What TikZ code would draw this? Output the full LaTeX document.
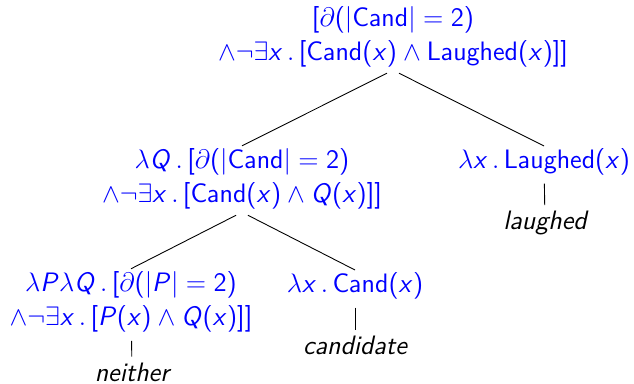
\documentclass[tikz,border=0pt]{standalone}
\usepackage{tikz}
\usetikzlibrary{positioning}
% sans serif letters in math
\DeclareSymbolFont{sfletters}{OT1}{cmss}{m}{sl}
\DeclareSymbolFont{sfupright}{OT1}{cmss}{m}{n}
\DeclareMathSymbol{x}{\mathalpha}{sfletters}{`x}
\DeclareMathSymbol{P}{\mathalpha}{sfletters}{`P}
\DeclareMathSymbol{Q}{\mathalpha}{sfletters}{`Q}
\DeclareMathSymbol{(}{\mathopen}{sfupright}{"28}
\DeclareMathSymbol{)}{\mathclose}{sfupright}{"29}
\DeclareMathSymbol{[}{\mathopen}{sfupright}{"5B}
\DeclareMathSymbol{]}{\mathclose}{sfupright}{"5D}
\DeclareMathSymbol{=}{\mathrel}{sfupright}{"3D}
\DeclareMathSymbol{2}{\mathalpha}{sfupright}{`2}
\tikzstyle{sem} = [font=\fontsize{12}{15.5}\selectfont\sffamily, text=blue, align=center, inner sep=1pt]
\tikzstyle{word} = [font=\fontsize{12}{15.5}\selectfont\sffamily\itshape, inner sep=1pt]
\tikzstyle{branch} = [line width=0.4pt, shorten <=3pt, shorten >=0pt]
\tikzstyle{stem} = [line width=0.4pt, shorten <=2.5pt, shorten >=1.5pt]

\begin{document}
\begin{tikzpicture}[x=0.45pt, y=-0.45pt]
        \useasboundingbox (0,0) rectangle (634,384);

        % Semantic nodes
        \node[sem] (s_0) at (393,37) {$[\partial(|\mathsf{Cand}|=2)$\\
            $\wedge\neg\exists x\,.\,[\mathsf{Cand}(x)\wedge\mathsf{Laughed}(x)]]$};
        \node[sem] (s_1) at (242,179) {$\lambda Q\,.\,[\partial(|\mathsf{Cand}|=2)$\\
            $\wedge\neg\exists x\,.\,[\mathsf{Cand}(x)\wedge Q(x)]]$};
        \node[sem] (s_2) at (544,162) {$\lambda x\,.\,\mathsf{Laughed}(x)$};
        \node[sem] (s_3) at (131,302) {$\lambda P\lambda Q\,.\,[\partial(|P|=2)$\\
            $\wedge\neg\exists x\,.\,[P(x)\wedge Q(x)]]$};
        \node[sem] (s_4) at (355,286) {$\lambda x\,.\,\mathsf{Cand}(x)$};

        % Words
        \node[word] (w_laughed) at (545,223) {laughed};
        \node[word] (w_cand) at (355,345) {candidate};
        \node[word] (w_neither) at (132,372) {neither};

        % Branches
        \draw[branch] (s_0.south) -- (s_1.north);
        \draw[branch] (s_0.south) -- (s_2.north);
        \draw[branch] (s_1.south) -- (s_3.north);
        \draw[branch] (s_1.south) -- (s_4.north);

        \draw[stem] (s_2) -- (w_laughed);
        \draw[stem] (s_4) -- (w_cand);
        \draw[stem] (s_3) -- (w_neither);
\end{tikzpicture}
\end{document}
